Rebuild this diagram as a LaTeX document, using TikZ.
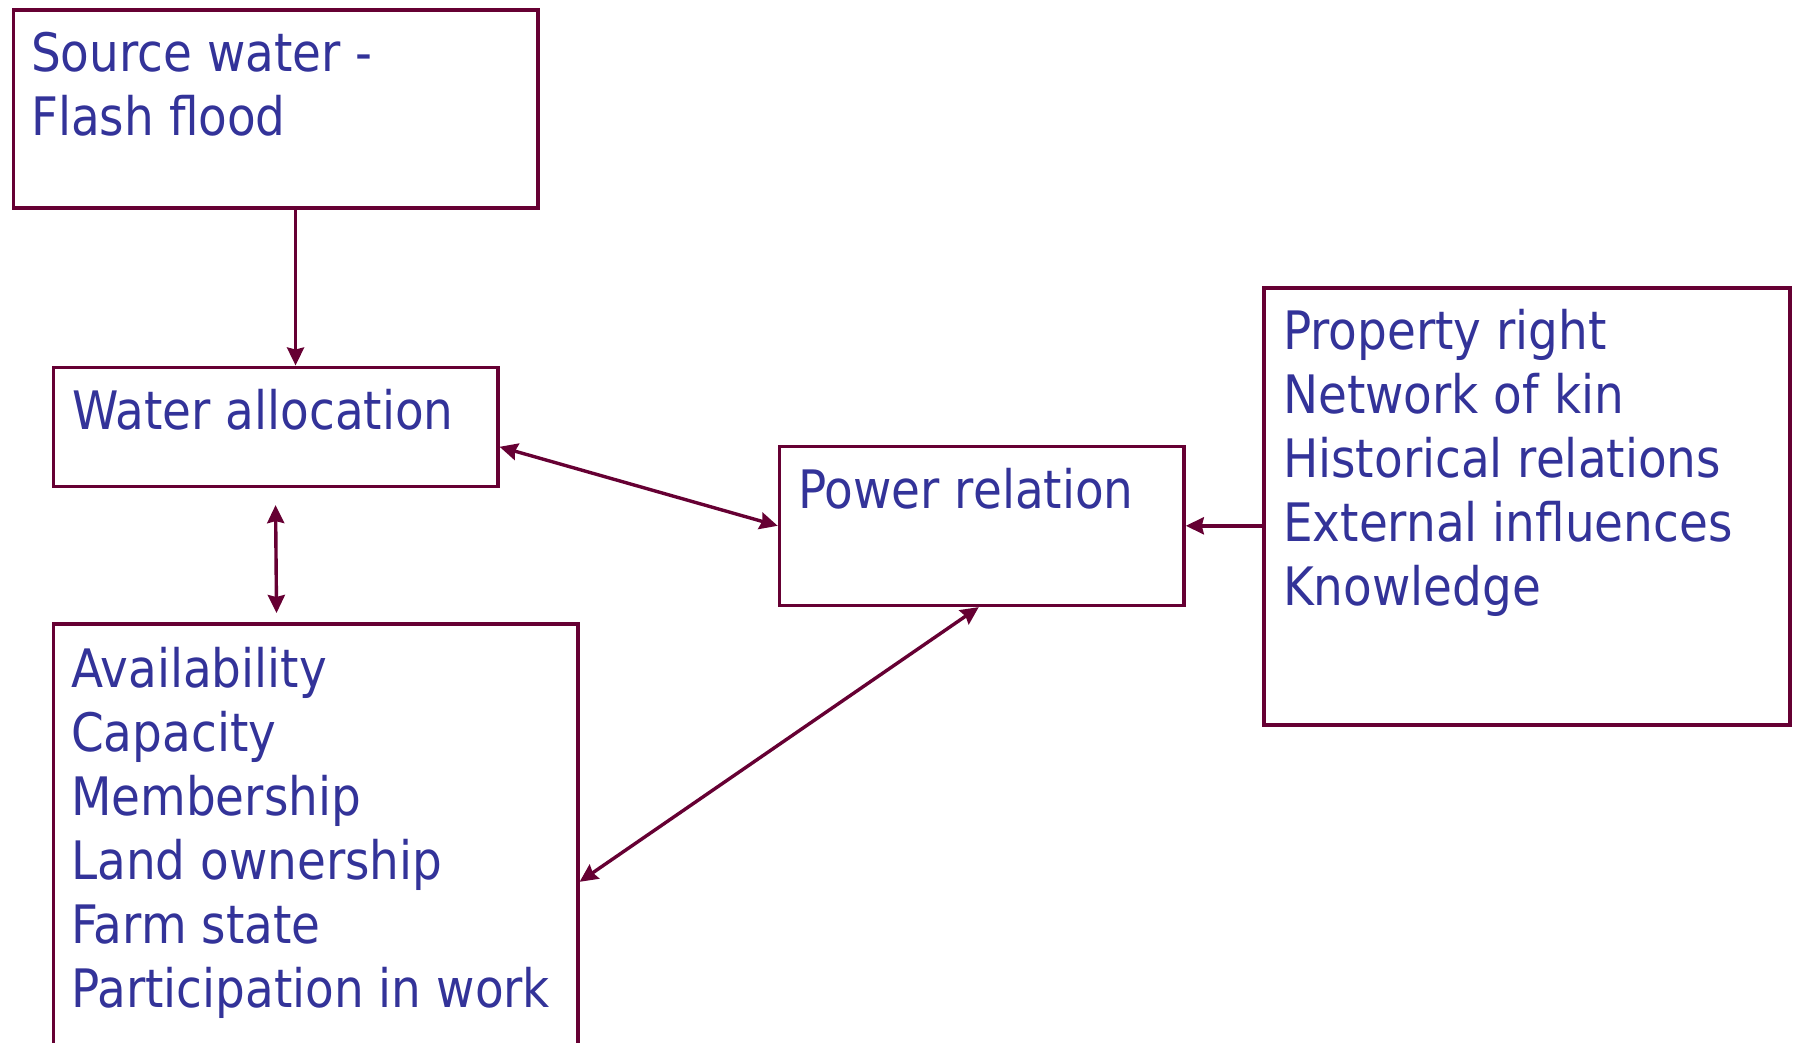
\documentclass[tikz,border=0pt]{standalone}
\usepackage{fontspec}
\setmainfont[FakeStretch=0.885]{DejaVu Sans}
\usetikzlibrary{arrows.meta,calc}
\definecolor{linec}{HTML}{660033}
\definecolor{textc}{HTML}{333399}
\begin{document}
\begin{tikzpicture}[x=1pt,y=-1pt,
  box/.style={draw=linec,line width=3.6pt,rectangle,inner sep=0pt,anchor=north west},
  txt/.style={text=textc,font=\fontsize{53}{64}\selectfont,align=left,inner sep=0pt,anchor=base west},
  conn/.style={draw=linec,line width=3.4pt,arrows={-Stealth[length=18pt,width=17pt,inset=2pt]}},
  dconn/.style={draw=linec,line width=3.4pt,arrows={Stealth[length=18pt,width=17pt,inset=2pt]-Stealth[length=18pt,width=17pt,inset=2pt]}}]
\useasboundingbox (0,0) rectangle (1796,1042);
% boxes
\node[box,minimum width=524.5pt,minimum height=198pt] (src) at (11.5,8) {};
\node[box,minimum width=444.5pt,minimum height=119pt] (wa) at (51.5,365.5) {};
\node[box,minimum width=524.5pt,minimum height=440pt] (av) at (51.5,622) {};
\node[box,minimum width=404.5pt,minimum height=159pt] (pr) at (777.7,444.5) {};
\node[box,minimum width=526pt,minimum height=437pt] (pp) at (1262,286) {};
% texts (anchored at the baseline of the last line)
\node[txt] (srct) at ($(src.north west)+(19.5,127)$) {Source water -\\Flash flood};
\node[txt] (wat) at ($(wa.north west)+(20.5,64)$) {Water allocation};
\node[txt] (avt) at ($(av.north west)+(19.5,385)$) {Availability\\Capacity\\Membership\\Land ownership\\Farm state\\Participation in work};
\node[txt] (prt) at ($(pr.north west)+(20.3,64)$) {Power relation};
\node[txt] (ppt) at ($(pp.north west)+(21,319)$) {Property right\\Network of kin\\Historical relations\\External influences\\Knowledge};
% connectors
\draw[conn] ($(src.south)+(20,0)$) -- ($(wa.north)+(20,0)$);
\draw[dconn] ($(wa.south)+(0,17)$) -- ($(av.north)+(-39,-9)$);
\draw[dconn] ($(wa.east)+(0,20)$) -- (pr.west);
\draw[dconn] ($(pr.south)+(-3,0)$) -- ($(av.east)+(0,38)$);
\draw[conn] (pp.west |- pr.east) -- (pr.east);
\end{tikzpicture}
\end{document}
